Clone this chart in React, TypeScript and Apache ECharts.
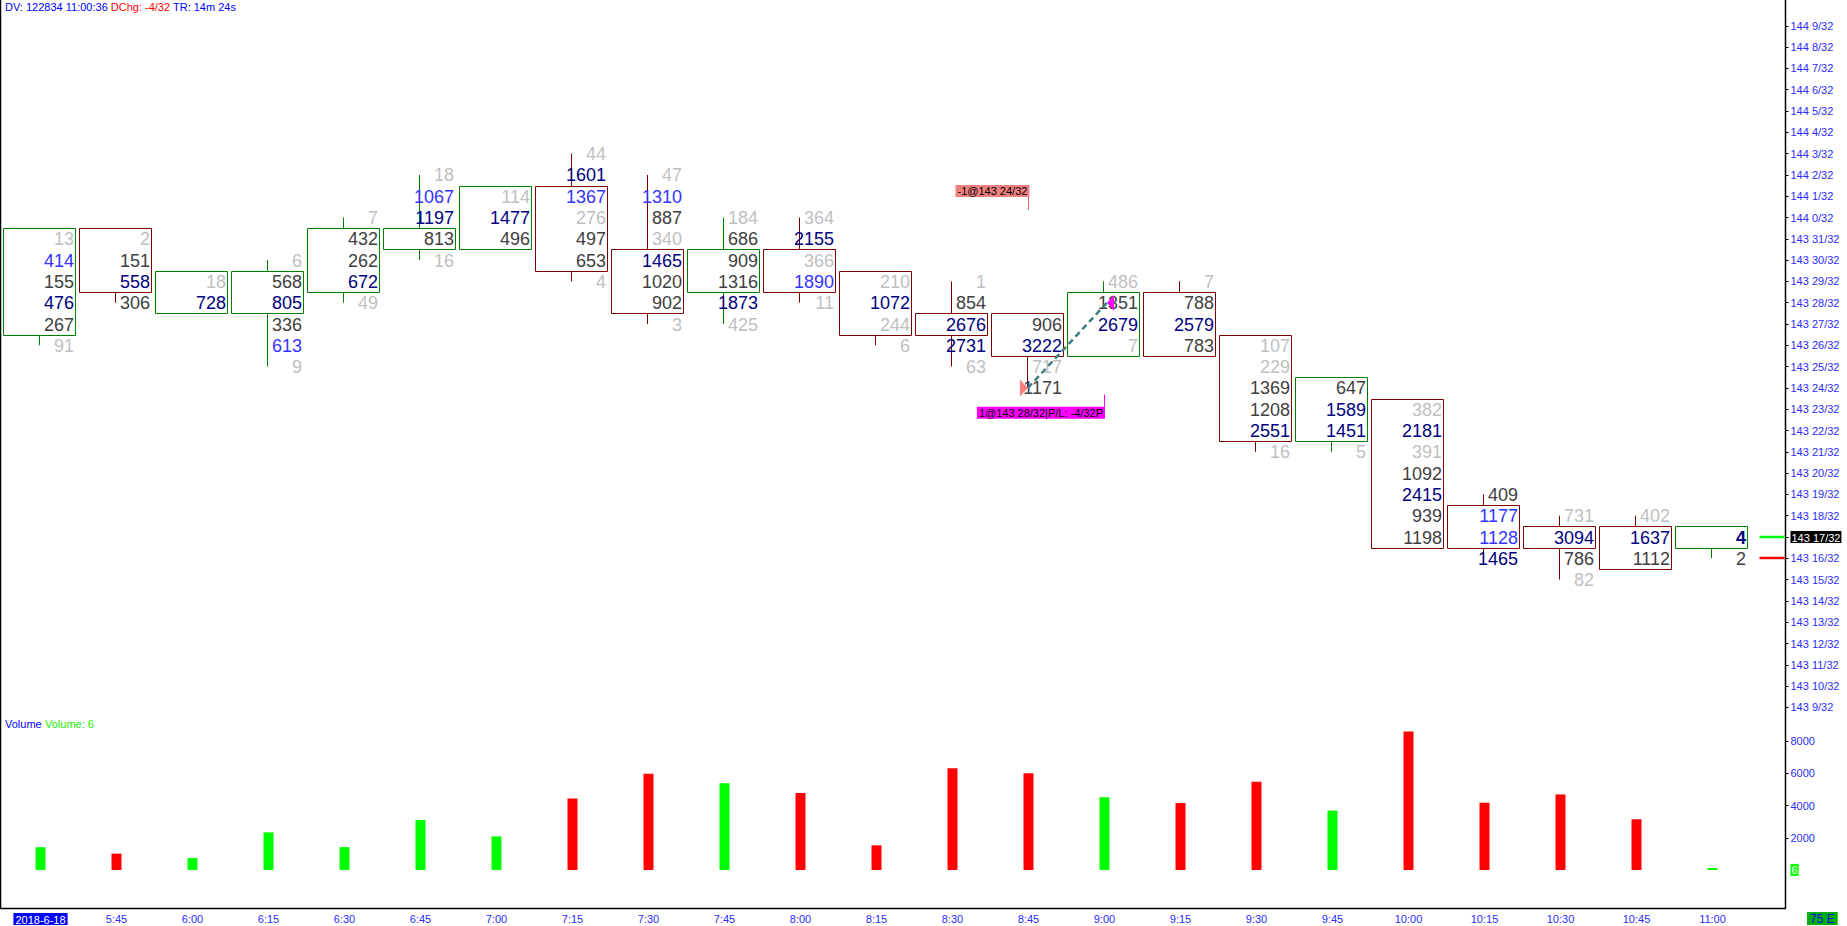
import React, { useEffect, useRef } from 'react';
import * as echarts from 'echarts';

// ---- data (prices in 32nds above 143) ----
const timeLabels = ['2018-6-18', '5:45', '6:00', '6:15', '6:30', '6:45', '7:00', '7:15', '7:30', '7:45', '8:00', '8:15', '8:30', '8:45', '9:00', '9:15', '9:30', '9:45', '10:00', '10:15', '10:30', '10:45', '11:00'];
const barHigh = [31, 31, 29, 30, 32, 34, 33, 35, 34, 32, 32, 29, 29, 27, 29, 29, 26, 24, 23, 19, 18, 18, 17];
const barLow = [26, 28, 28, 25, 28, 30, 31, 29, 27, 27, 28, 26, 25, 24, 26, 26, 21, 21, 17, 16, 15, 16, 16];
const barOpen = [27, 31, 28, 28, 29, 31, 31, 33, 30, 29, 30, 29, 27, 27, 26, 28, 26, 22, 23, 18, 17, 17, 17];
const barClose = [31, 29, 29, 29, 31, 31, 33, 30, 28, 30, 29, 27, 27, 26, 28, 26, 22, 24, 17, 17, 17, 16, 17];
const barUp = [1, 0, 1, 1, 1, 1, 1, 0, 0, 1, 0, 0, 0, 0, 1, 0, 0, 1, 0, 0, 0, 0, 1];
// volume at each price, from the high down to the low
const cellVolumes = [
  [13, 414, 155, 476, 267, 91],
  [2, 151, 558, 306],
  [18, 728],
  [6, 568, 805, 336, 613, 9],
  [7, 432, 262, 672, 49],
  [18, 1067, 1197, 813, 16],
  [114, 1477, 496],
  [44, 1601, 1367, 276, 497, 653, 4],
  [47, 1310, 887, 340, 1465, 1020, 902, 3],
  [184, 686, 909, 1316, 1873, 425],
  [364, 2155, 366, 1890, 11],
  [210, 1072, 244, 6],
  [1, 854, 2676, 2731, 63],
  [906, 3222, 717, 1171],
  [486, 1351, 2679, 7],
  [7, 788, 2579, 783],
  [107, 229, 1369, 1208, 2551, 16],
  [647, 1589, 1451, 5],
  [382, 2181, 391, 1092, 2415, 939, 1198],
  [409, 1177, 1128, 1465],
  [731, 3094, 786, 82],
  [402, 1637, 1112],
  [4, 2],
];
const cellTones = ['gbknkg', 'gknk', 'gn', 'gknkbg', 'gkkng', 'gbnkg', 'gnk', 'gnbgkkg', 'gbkgnkkg', 'gkkkng', 'gngbg', 'gngg', 'gknng', 'kngk', 'gkng', 'gknk', 'ggkkng', 'knng', 'gngknkk', 'kbbn', 'gnkg', 'gnk', 'Nk'];
const volumes = [1416, 1017, 746, 2337, 1422, 3111, 2087, 4442, 5974, 5393, 4786, 1532, 6325, 6016, 4523, 4157, 5480, 3692, 8598, 4179, 4693, 3151, 6];
const priceTicks = [9, 10, 11, 12, 13, 14, 15, 16, 17, 18, 19, 20, 21, 22, 23, 24, 25, 26, 27, 28, 29, 30, 31, 32, 33, 34, 35, 36, 37, 38, 39, 40, 41];
const volumeTicks = [2000, 4000, 6000, 8000];
const tradeBars = [13, 14];
const tradePrices = [24, 28];
const tradeLabels = ['-1@143 24/32', '1@143 28/32|P/L: -4/32P'];
const lastPrice = 17;
const markerPrices = [17, 16];
const markerColors = ['#00ff00', '#ff0000'];

const FONT = '"Liberation Sans", Arial, sans-serif';
const toneColor: Record<string, string> = { g: '#c0c0c0', k: '#404040', n: '#000080', b: '#3333ff', N: '#000080' };
const AXIS_BLUE = '#2b2bff';

function priceLabel(k: number) {
  return `${143 + Math.floor(k / 32)} ${k % 32}/32`;
}

function renderFootprint(params: any, api: any) {
  const idx = params.dataIndex;
  const i = api.value(0);
  const hi = api.value(1);
  const lo = api.value(2);
  const op = api.value(3);
  const cl = api.value(4);
  const up = api.value(5) === 1;
  const stroke = up ? '#008000' : '#800000';
  const cx = api.coord([i, hi])[0];
  const rowH = api.size([0, 1])[1];
  const boxL = Math.round(cx - 37.3) + 0.5;
  const boxW = 72;
  const midX = Math.floor(boxL + boxW / 2) + 0.5;
  const top = Math.max(op, cl);
  const bot = Math.min(op, cl);
  const yTop = Math.round(api.coord([i, top])[1] - rowH / 2) + 0.5;
  const yBot = Math.round(api.coord([i, bot])[1] + rowH / 2) + 0.5;
  const children: any[] = [];
  if (hi > top) {
    children.push({ type: 'line', shape: { x1: midX, y1: api.coord([i, hi])[1], x2: midX, y2: yTop }, style: { stroke, lineWidth: 1 } });
  }
  if (lo < bot) {
    children.push({ type: 'line', shape: { x1: midX, y1: yBot, x2: midX, y2: api.coord([i, lo])[1] }, style: { stroke, lineWidth: 1 } });
  }
  children.push({ type: 'rect', shape: { x: boxL, y: yTop, width: boxW, height: yBot - yTop }, style: { fill: 'rgba(0,0,0,0)', stroke, lineWidth: 1 } });
  const vols = cellVolumes[idx];
  const tones = cellTones[idx];
  for (let j = 0; j < vols.length; j++) {
    const y = api.coord([i, hi - j])[1];
    const t = tones[j];
    children.push({
      type: 'text',
      style: {
        text: String(vols[j]),
        x: boxL + boxW - 1.5,
        y: y + 0.5,
        align: 'right',
        verticalAlign: 'middle',
        fill: toneColor[t],
        font: `${t === 'N' ? 'bold ' : ''}18px ${FONT}`,
      },
    });
  }
  return { type: 'group', children };
}

function renderTrades(params: any, api: any) {
  const s = api.coord([api.value(0), api.value(1)]);
  const b = api.coord([api.value(2), api.value(3)]);
  const ax = s[0] - 0.6;
  const ay = s[1];
  const bx = b[0] + 2.5;
  const by = b[1];
  return {
    type: 'group',
    children: [
      { type: 'polygon', shape: { points: [[ax - 8, ay - 8.5], [ax, ay], [ax - 8, ay + 8.5]] }, style: { fill: '#ff8080' } },
      { type: 'polygon', shape: { points: [[bx, by], [bx + 7, by - 8], [bx + 7, by + 8]] }, style: { fill: '#ff00ff' } },
      { type: 'line', shape: { x1: ax, y1: ay, x2: bx, y2: by }, style: { stroke: '#3a8080', lineWidth: 2.5, lineDash: [6, 4] } },
      { type: 'line', shape: { x1: Math.round(ax) + 0.5, y1: ay - 191, x2: Math.round(ax) + 0.5, y2: ay - 178 }, style: { stroke: '#ff6060', lineWidth: 1 } },
      {
        type: 'text',
        style: {
          text: tradeLabels[0], x: ax + 1.5, y: ay - 191, align: 'right', verticalAlign: 'bottom',
          fill: '#000', backgroundColor: '#f08080', padding: [1, 2, 0, 2], font: `11px ${FONT}`,
        },
      },
      { type: 'line', shape: { x1: Math.round(bx - 3) + 0.5, y1: by + 92, x2: Math.round(bx - 3) + 0.5, y2: by + 104 }, style: { stroke: '#ff00ff', lineWidth: 1 } },
      {
        type: 'text',
        style: {
          text: tradeLabels[1], x: bx - 2, y: by + 104, align: 'right', verticalAlign: 'top',
          fill: '#000', backgroundColor: '#ff00ff', padding: [1, 2, 0, 2], font: `11px ${FONT}`,
        },
      },
    ],
  };
}

function renderMarkers(params: any, api: any) {
  const cs = params.coordSys;
  const right = cs.x + cs.width;
  const y = Math.round(api.coord([0, api.value(0)])[1]);
  return {
    type: 'line',
    shape: { x1: right + 9, y1: y, x2: right + 34, y2: y },
    style: { stroke: markerColors[params.dataIndex], lineWidth: 2.5 },
  };
}

export default function App() {
  const ref = useRef<HTMLDivElement>(null);
  useEffect(() => {
    if (!ref.current) return;
    const chart = echarts.init(ref.current, null, { renderer: 'svg' });
    const gridLeft = 2.5;
    const gridWidth = 1748;
    const option: any = {
      animation: false,
      backgroundColor: '#ffffff',
      textStyle: { fontFamily: FONT },
      grid: [
        { left: gridLeft, width: gridWidth, top: 4.5, height: 724.2 },
        { left: gridLeft, width: gridWidth, top: 709, height: 161 },
      ],
      xAxis: [
        { type: 'category', gridIndex: 0, data: timeLabels, show: false },
        {
          type: 'category', gridIndex: 1, data: timeLabels, position: 'bottom', offset: 38,
          axisLine: { show: false }, axisTick: { show: false },
          axisLabel: {
            interval: 0, margin: 5, fontSize: 11, color: AXIS_BLUE, fontFamily: FONT,
            formatter: (v: string, i: number) => (i === 0 ? `{d|${v}}` : v),
            rich: { d: { backgroundColor: '#0000ff', color: '#ffffff', fontSize: 11, fontFamily: FONT, padding: [1, 2, 0, 2] } },
          },
        },
      ],
      yAxis: [
        {
          type: 'value', gridIndex: 0, min: 8, max: 42, position: 'right', offset: 35,
          axisLine: { show: false }, splitLine: { show: false },
          axisTick: { show: true, length: 3, customValues: priceTicks, lineStyle: { color: '#000' } },
          axisLabel: {
            customValues: priceTicks, margin: 5, fontSize: 11, color: AXIS_BLUE, fontFamily: FONT,
            formatter: (v: number) => (v === lastPrice ? `{c|${priceLabel(v)}}` : priceLabel(v)),
            rich: { c: { backgroundColor: '#000000', color: '#ffffff', fontSize: 11, fontFamily: FONT, padding: [1, 1, 0, 1] } },
          },
        },
        {
          type: 'value', gridIndex: 1, min: 0, max: 10000, position: 'right', offset: 35,
          axisLine: { show: false }, splitLine: { show: false },
          axisTick: { show: true, length: 3, customValues: volumeTicks, lineStyle: { color: '#000' } },
          axisLabel: {
            customValues: [volumes[volumes.length - 1], ...volumeTicks], margin: 5, fontSize: 11, color: AXIS_BLUE, fontFamily: FONT,
            formatter: (v: number) => (v === volumes[volumes.length - 1] ? `{v|${v}}` : String(v)),
            rich: { v: { backgroundColor: '#00ff00', color: '#ffffff', fontSize: 11, fontFamily: FONT, padding: [1, 1, 0, 1] } },
          },
        },
      ],
      series: [
        {
          type: 'custom', name: 'footprint', xAxisIndex: 0, yAxisIndex: 0, clip: false,
          renderItem: renderFootprint,
          encode: { x: 0, y: [1, 2] },
          data: timeLabels.map((_, i) => [i, barHigh[i], barLow[i], barOpen[i], barClose[i], barUp[i]]),
          z: 5,
        },
        {
          type: 'custom', name: 'trades', xAxisIndex: 0, yAxisIndex: 0, clip: false,
          renderItem: renderTrades,
          encode: { x: 0, y: 1 },
          data: [[tradeBars[0], tradePrices[0], tradeBars[1], tradePrices[1]]],
          z: 10,
        },
        {
          type: 'custom', name: 'markers', xAxisIndex: 0, yAxisIndex: 0, clip: false,
          renderItem: renderMarkers,
          encode: { y: 0 },
          data: markerPrices.map((p) => [p]),
          z: 10,
        },
        {
          type: 'bar', name: 'Volume', xAxisIndex: 1, yAxisIndex: 1, barWidth: 10, barMinHeight: 2,
          data: volumes.map((v, i) => ({ value: v, itemStyle: { color: barUp[i] ? '#00ff00' : '#ff0000' } })),
        },
      ],
      graphic: [
        { type: 'line', shape: { x1: 0.5, y1: 0, x2: 0.5, y2: 908 }, style: { stroke: '#000', lineWidth: 1.5 } },
        { type: 'line', shape: { x1: 1785.5, y1: 0, x2: 1785.5, y2: 908.5 }, style: { stroke: '#000', lineWidth: 1.5 } },
        { type: 'line', shape: { x1: 0, y1: 908.5, x2: 1786, y2: 908.5 }, style: { stroke: '#000', lineWidth: 1.5 } },
        {
          type: 'text', left: 5, top: 1,
          style: {
            text: '{a|DV: 122834 11:00:36 }{b|DChg: -4/32}{a| TR: 14m 24s}',
            rich: {
              a: { fill: '#0000ff', fontSize: 11, fontFamily: FONT },
              b: { fill: '#ff0000', fontSize: 11, fontFamily: FONT },
            },
          },
        },
        {
          type: 'text', left: 5, top: 718,
          style: {
            text: '{a|Volume} {b|Volume: 6}',
            rich: {
              a: { fill: '#0000ff', fontSize: 11, fontFamily: FONT },
              b: { fill: '#22ee00', fontSize: 11, fontFamily: FONT },
            },
          },
        },
        {
          type: 'text', left: 1807, top: 912,
          style: { text: '75 E', fill: '#0000ff', backgroundColor: '#00b000', padding: [1, 3, 0, 3], fontSize: 12, fontFamily: FONT },
        },
      ],
    };
    chart.setOption(option);
    return () => chart.dispose();
  }, []);
  return <div ref={ref} style={{ position: 'fixed', left: 0, top: 0, width: 1847, height: 926, background: '#fff' }} />;
}
